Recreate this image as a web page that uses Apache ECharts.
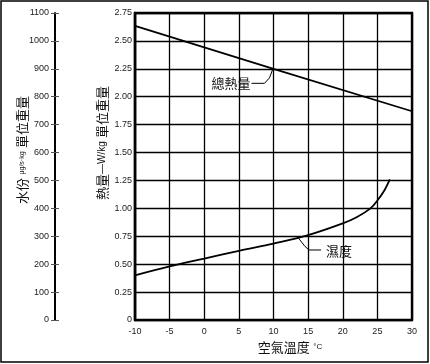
<!DOCTYPE html>
<html><head><meta charset="utf-8">
<script src="https://cdn.jsdelivr.net/npm/echarts@6/dist/echarts.min.js"></script>
<style>html,body{margin:0;padding:0;background:#fff}#c{width:430px;height:364px}</style>
</head><body><div id="c"></div>
<script>
// ---- data ----
const tempTicks = ['-10','-5','0','5','10','15','20','25','30'];
const heatTicks = ['0','0.25','0.50','0.75','1.00','1.25','1.50','1.75','2.00','2.25','2.50','2.75'];
const waterTicks = ['0','100','200','300','400','500','600','700','800','900','1000','1100'];
const totalHeatX = [-10, 10, 30];
const totalHeatY = [2.635, 2.25, 1.87];
const humidityX = [-10, -5, 0, 5, 10, 15, 20, 22, 24, 25, 26, 26.8];
const humidityY = [0.40, 0.48, 0.55, 0.62, 0.685, 0.76, 0.865, 0.92, 1.0, 1.07, 1.16, 1.26];
const seriesNames = ['總熱量', '濕度'];
const annotationAt = [[10, 2.25], [13.4, 0.748]];

const NUM = 'Liberation Sans, Arial, sans-serif';
const CJK = 'Noto Sans CJK TC, sans-serif';
const chart = echarts.init(document.getElementById('c'), null, {renderer: 'canvas'});
const zip = (xs, ys) => xs.map((x, i) => [x, ys[i]]);
const lblBy = (ticks, step) => v => { const i = Math.round(v / step); return ticks[i] !== undefined ? ticks[i] : ''; };

chart.setOption({
  animation: false,
  backgroundColor: '#fff',
  grid: {left: 135, right: 18, top: 13, bottom: 44, show: true, borderColor: '#000', borderWidth: 2.4, backgroundColor: 'transparent'},
  xAxis: {
    type: 'value', min: -10, max: 30, interval: 5,
    axisLine: {show: true, onZero: false, lineStyle: {color: '#000', width: 2}},
    axisTick: {show: false},
    splitLine: {show: true, lineStyle: {color: '#000', width: 1.3}},
    axisLabel: {color: '#222', fontFamily: NUM, fontSize: 9, margin: 7,
      formatter: v => tempTicks[Math.round((v + 10) / 5)]}
  },
  yAxis: [
    {
      type: 'value', min: 0, max: 2.75, interval: 0.25, position: 'left',
      axisLine: {show: true, onZero: false, lineStyle: {color: '#000', width: 2.4}},
      axisTick: {show: false},
      splitLine: {show: true, lineStyle: {color: '#000', width: 1.3}},
      axisLabel: {color: '#222', fontFamily: NUM, fontSize: 9, margin: 3, formatter: lblBy(heatTicks, 0.25)}
    },
    {
      type: 'value', min: 0, max: 1100, interval: 100, position: 'left', offset: 80,
      axisLine: {show: true, onZero: false, lineStyle: {color: '#000', width: 2}},
      axisTick: {show: true, length: 4, lineStyle: {color: '#555', width: 1}},
      splitLine: {show: false},
      axisLabel: {color: '#222', fontFamily: NUM, fontSize: 9, margin: 6, formatter: lblBy(waterTicks, 100)}
    },
    {
      type: 'value', min: 0, max: 1100, interval: 100, position: 'left', offset: 80,
      axisLine: {show: false, onZero: false},
      axisTick: {show: true, inside: true, length: 4, lineStyle: {color: '#555', width: 1}},
      splitLine: {show: false},
      axisLabel: {show: false}
    }
  ],
  series: [
    {name: seriesNames[0], type: 'line', data: zip(totalHeatX, totalHeatY), symbol: 'none',
      lineStyle: {color: '#000', width: 1.8}, z: 5},
    {name: seriesNames[1], type: 'line', data: zip(humidityX, humidityY), symbol: 'none', smooth: 0.35,
      lineStyle: {color: '#000', width: 1.8}, z: 5}
  ]
});

const p1 = chart.convertToPixel({xAxisIndex: 0, yAxisIndex: 0}, annotationAt[0]);
const p2 = chart.convertToPixel({xAxisIndex: 0, yAxisIndex: 0}, annotationAt[1]);

chart.setOption({
  graphic: [
    {type: 'rect', shape: {x: 1, y: 1, width: 427, height: 361}, style: {fill: 'none', stroke: '#000', lineWidth: 1.5}, silent: true},
    // leader 總熱量
    {type: 'polyline', shape: {points: [[p1[0]-1, p1[1]+1], [p1[0]-4, p1[1]+9], [p1[0]-9, p1[1]+14.5], [p1[0]-22, p1[1]+14.5]]},
      style: {stroke: '#000', lineWidth: 1, fill: 'none'}},
    {type: 'text', x: p1[0]-23, y: p1[1]+14.5, style: {text: seriesNames[0], fontFamily: CJK, fontSize: 13, fill: '#111', align: 'right', verticalAlign: 'middle'}},
    // leader 濕度
    {type: 'polyline', shape: {points: [[p2[0]+1, p2[1]+1], [p2[0]+8, p2[1]+10], [p2[0]+12, p2[1]+13.5], [p2[0]+24, p2[1]+13.5]]},
      style: {stroke: '#000', lineWidth: 1, fill: 'none'}},
    {type: 'text', x: p2[0]+29, y: p2[1]+14.5, style: {text: seriesNames[1], fontFamily: CJK, fontSize: 13, fill: '#111', align: 'left', verticalAlign: 'middle'}},
    // axis titles
    {type: 'text', x: 22, y: 150, rotation: Math.PI/2,
      style: {text: '{a|水份} {b|μg/s·kg} {a|單位重量}', align: 'center', verticalAlign: 'middle',
        rich: {a: {fontFamily: CJK, fontSize: 13, fill: '#111'}, b: {fontFamily: NUM, fontSize: 7, fill: '#111'}}}},
    {type: 'text', x: 102, y: 143, rotation: Math.PI/2,
      style: {text: '{a|熱量}{b|—W/kg} {a|單位重量}', align: 'center', verticalAlign: 'middle',
        rich: {a: {fontFamily: CJK, fontSize: 13, fill: '#111'}, b: {fontFamily: NUM, fontSize: 10, fill: '#111'}}}},
    {type: 'text', x: 290, y: 347,
      style: {text: '{a|空氣溫度} {b|°C}', align: 'center', verticalAlign: 'middle',
        rich: {a: {fontFamily: CJK, fontSize: 13, fill: '#111'}, b: {fontFamily: NUM, fontSize: 8, fill: '#111'}}}}
  ]
});
</script></body></html>
